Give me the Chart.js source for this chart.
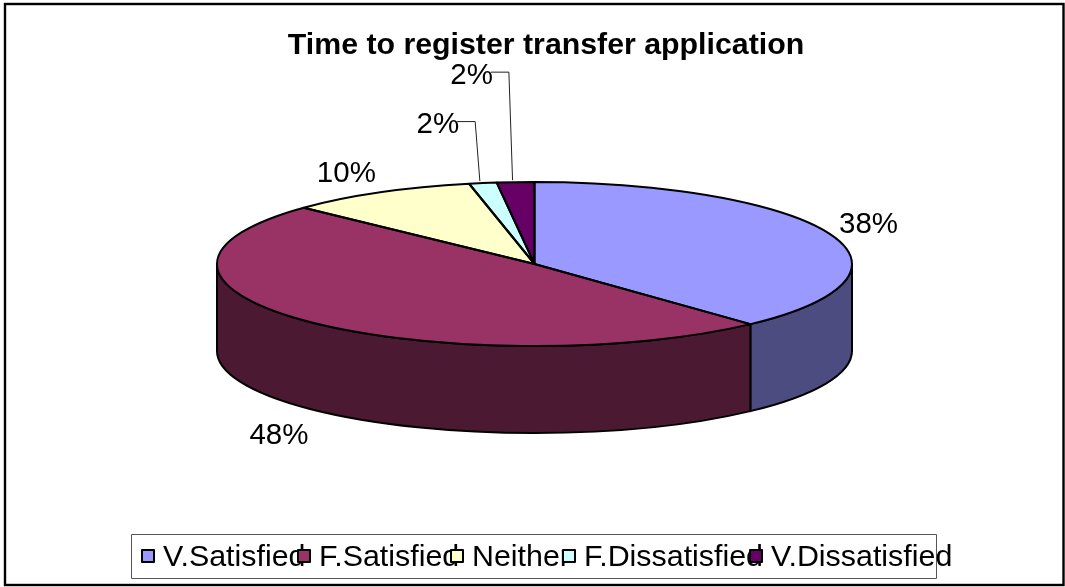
<!DOCTYPE html>
<html><head><meta charset="utf-8">
<style>html,body{margin:0;padding:0;background:#fff}canvas{display:block}</style>
<script src="https://cdn.jsdelivr.net/npm/chart.js@4"></script>
</head><body><canvas id="c" width="1065" height="587"></canvas>
<script>
const titleText = "Time to register transfer application";
const categories = ["V.Satisfied","F.Satisfied","Neither","F.Dissatisfied","V.Dissatisfied"];
const values = [38.1,48.95,9.65,1.4,1.9];
const percentLabels = ["38%","48%","10%","2%","2%"];
const sliceColors = ["#9999FF","#993366","#FFFFCC","#CCFFFF","#660066"];
const wallColors = ["#4C4C80","#4C1933","#808066","#668080","#330033"];
const labelOffsets = [[38.5,-10],[-30,113],[-33,-20],[-45,-59],[-44,-107.5]];
const leaderFlags = [false,false,false,true,true];
const legendItemX = [141,297,450,562,749];

const FONT = '"Liberation Sans", Arial, sans-serif';
const RY = 82, RX = 317.5, DEPTH = 87, LABEL_SIZE = 29.5, LEGEND_SIZE = 30.4;

const tilt = {
  id:'tilt',
  afterLayout(chart){
    if(chart.titleBlock){ chart.titleBlock.left += 11.5; chart.titleBlock.right += 11.5; }
  },
  beforeDraw(chart){
    const c = chart.ctx;
    c.save();
    c.fillStyle='#fff'; c.fillRect(0,0,1065,587);
    c.strokeStyle='#000'; c.lineWidth=2.4;
    c.strokeRect(5,4,1058.5,581);
    c.restore();
  },
  beforeDatasetsDraw(chart){
    const c = chart.ctx, arcs = chart.getDatasetMeta(0).data;
    const cx = arcs[0].x, cy = arcs[0].y;
    c.save();
    c.lineWidth = 2; c.strokeStyle='#000'; c.lineJoin='round';
    arcs.forEach((a,i)=>{
      const lo = Math.max(a.startAngle,0), hi = Math.min(a.endAngle,Math.PI);
      if(hi<=lo) return;
      c.beginPath();
      c.ellipse(cx,cy,RX,RY,0,lo,hi,false);
      c.ellipse(cx,cy+DEPTH,RX,RY,0,hi,lo,true);
      c.closePath();
      c.fillStyle = wallColors[i]; c.fill(); c.stroke();
    });
    c.restore();
    c.save();
    c.translate(cx,cy); c.scale(RX/RY,1); c.translate(-cx,-cy);
  },
  afterDatasetsDraw(chart){
    const c = chart.ctx, arcs = chart.getDatasetMeta(0).data;
    c.restore();
    const cx = arcs[0].x, cy = arcs[0].y;
    c.save();
    c.lineWidth = 2; c.strokeStyle='#000'; c.lineJoin='round';
    arcs.forEach(a=>{
      c.beginPath();
      c.moveTo(cx,cy);
      c.ellipse(cx,cy,RX,RY,0,a.startAngle,a.endAngle,false);
      c.closePath();
      c.stroke();
    });
    c.font = LABEL_SIZE+'px '+FONT;
    c.textAlign='center'; c.textBaseline='middle'; 
    arcs.forEach((a,i)=>{
      const m=(a.startAngle+a.endAngle)/2;
      const px=cx+RX*Math.cos(m), py=cy+RY*Math.sin(m);
      const lx=px+labelOffsets[i][0], ly=py+labelOffsets[i][1];
      if(leaderFlags[i]){
        c.strokeStyle='#222'; c.lineWidth=1;
        const tw=c.measureText(percentLabels[i]).width;
        const sx=lx+tw/2-2, sy=ly-2.5;
        c.beginPath(); c.moveTo(sx,sy); c.lineTo(sx+18,sy); c.lineTo(px-3,py-2); c.stroke();
      }
      c.fillStyle='#000';
      c.fillText(percentLabels[i],lx,ly+1);
    });
    // legend
    c.font = LEGEND_SIZE+'px '+FONT;
    c.strokeStyle='#555'; c.lineWidth=1;
    c.strokeRect(131.5,534.5,805,44);
    c.textAlign='left'; c.textBaseline='alphabetic';
    categories.forEach((t,i)=>{
      const x=legendItemX[i];
      c.fillStyle='#000';
      c.fillText(t,x+22,566);
    });
    categories.forEach((t,i)=>{
      const x=legendItemX[i];
      c.fillStyle=sliceColors[i]; c.strokeStyle='#000'; c.lineWidth=2;
      c.fillRect(x+1,550,12,12); c.strokeRect(x+1,550,12,12);
    });
    c.restore();
  }
};

new Chart(document.getElementById('c'),{
  type:'pie',
  plugins:[tilt],
  data:{labels:categories,datasets:[{data:values,backgroundColor:sliceColors,borderWidth:0,clip:false,radius:RY}]},
  options:{
    responsive:false,animation:false,
    layout:{padding:{left:4,right:0,top:0,bottom:122.36}},
    plugins:{
      legend:{display:false},
      tooltip:{enabled:false},
      title:{display:true,text:titleText,color:'#000',font:{family:FONT,size:30.3,weight:'bold'},padding:{top:27,bottom:0}}
    }
  }
});
</script></body></html>
